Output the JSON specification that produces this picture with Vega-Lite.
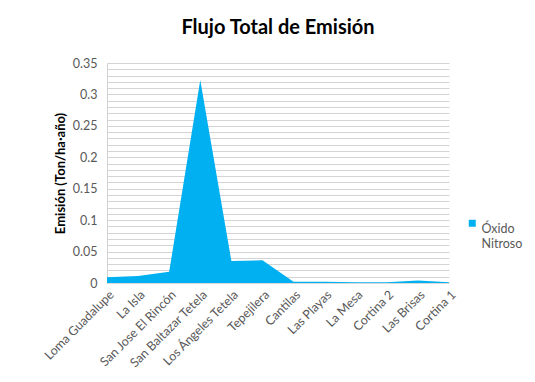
{
  "$schema": "https://vega.github.io/schema/vega-lite/v6.json",
  "width": 342,
  "height": 220,
  "autosize": "none",
  "padding": {"left": 107, "top": 63, "right": 86, "bottom": 99},
  "background": "white",
  "title": {
    "text": "Flujo Total de Emisión",
    "font": "Lato",
    "fontSize": 20,
    "fontWeight": "bold",
    "color": "#000000",
    "anchor": "middle",
    "offset": 19
  },
  "data": {
    "values": [
      {"sitio": "Loma Guadalupe", "emision": 0.009, "serie": "Óxido Nitroso"},
      {"sitio": "La Isla", "emision": 0.011, "serie": "Óxido Nitroso"},
      {"sitio": "San Jose El Rincón", "emision": 0.018, "serie": "Óxido Nitroso"},
      {"sitio": "San Baltazar Tetela", "emision": 0.323, "serie": "Óxido Nitroso"},
      {"sitio": "Los Ángeles Tetela", "emision": 0.035, "serie": "Óxido Nitroso"},
      {"sitio": "Tepejilera", "emision": 0.036, "serie": "Óxido Nitroso"},
      {"sitio": "Cantilas", "emision": 0.002, "serie": "Óxido Nitroso"},
      {"sitio": "Las Playas", "emision": 0.002, "serie": "Óxido Nitroso"},
      {"sitio": "La Mesa", "emision": 0.001, "serie": "Óxido Nitroso"},
      {"sitio": "Cortina 2", "emision": 0.001, "serie": "Óxido Nitroso"},
      {"sitio": "Las Brisas", "emision": 0.004, "serie": "Óxido Nitroso"},
      {"sitio": "Cortina 1", "emision": 0.001, "serie": "Óxido Nitroso"}
    ]
  },
  "mark": {"type": "area", "interpolate": "linear", "opacity": 1},
  "encoding": {
    "x": {
      "field": "sitio",
      "type": "nominal",
      "sort": null,
      "scale": {"type": "point", "padding": 0},
      "axis": {
        "title": null,
        "labelAngle": -45,
        "labelAlign": "right",
        "labelBaseline": "top",
        "labelFont": "Lato",
        "labelFontSize": 12.5,
        "labelColor": "#595959",
        "labelPadding": 5,
        "tickSize": 0,
        "domainColor": "#d9d9d9",
        "grid": false,
        "labelOverlap": false,
        "labelLimit": 200
      }
    },
    "y": {
      "field": "emision",
      "type": "quantitative",
      "scale": {"domain": [0, 0.35], "nice": false},
      "axis": {
        "title": "Emisión (Ton/ha·año)",
        "titleFont": "Lato",
        "titleFontSize": 13,
        "titleFontWeight": "bold",
        "titleColor": "#000000",
        "titlePadding": 5,
        "values": [0, 0.01, 0.02, 0.03, 0.04, 0.05, 0.06, 0.07, 0.08, 0.09, 0.1, 0.11, 0.12, 0.13, 0.14, 0.15, 0.16, 0.17, 0.18, 0.19, 0.2, 0.21, 0.22, 0.23, 0.24, 0.25, 0.26, 0.27, 0.28, 0.29, 0.3, 0.31, 0.32, 0.33, 0.34, 0.35],
        "format": ".2~f",
        "labelExpr": "abs(datum.value * 20 - round(datum.value * 20)) < 0.000001 ? datum.label : ''",
        "labelFont": "Lato",
        "labelFontSize": 12.5,
        "labelColor": "#595959",
        "labelPadding": 10,
        "tickSize": 0,
        "domainColor": "#d0d0d0",
        "gridColor": "#d4d4d4",
        "gridWidth": 1
      }
    },
    "color": {
      "field": "serie",
      "type": "nominal",
      "scale": {"range": ["#00B0F0"]},
      "legend": {
        "title": null,
        "orient": "none",
        "legendX": 359,
        "legendY": 154,
        "symbolType": "square",
        "symbolSize": 49,
        "symbolStrokeWidth": 0,
        "labelFont": "Lato",
        "labelFontSize": 12.5,
        "labelColor": "#595959",
        "labelExpr": "split(datum.label, ' ')",
        "labelBaseline": "top",
        "labelOffset": 3
      }
    }
  },
  "config": {
    "view": {"stroke": null}
  }
}
